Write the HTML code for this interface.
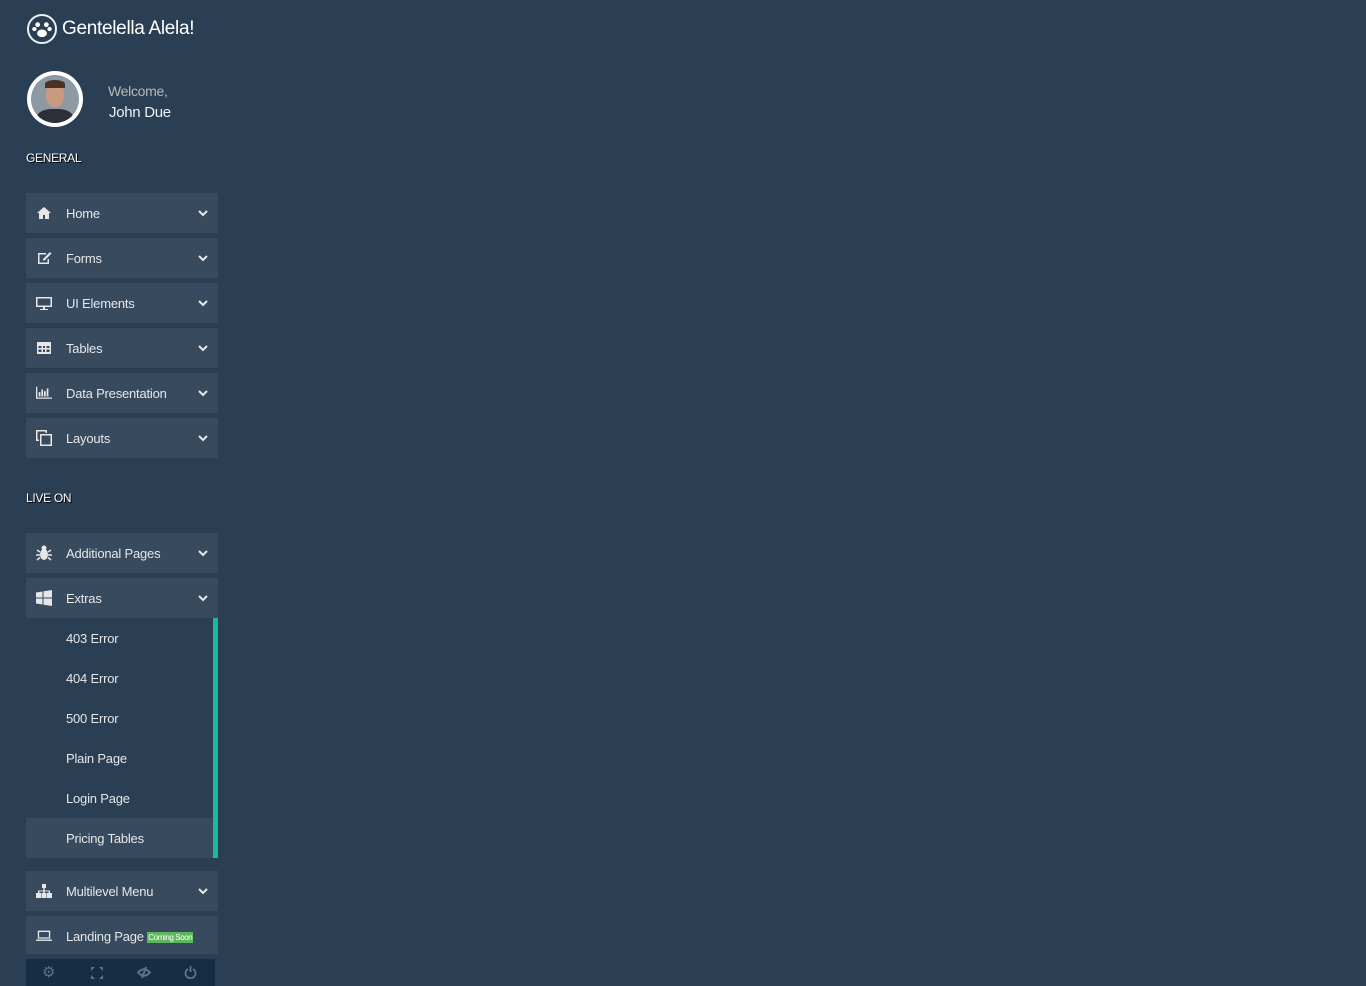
<!DOCTYPE html>
<html><head><meta charset="utf-8"><style>
body{margin:0;width:1366px;height:986px;background:#2A3F54;font-family:"Liberation Sans",sans-serif;color:#ECF0F1;position:relative;overflow:hidden}
.a{position:absolute}
.item{position:absolute;left:26px;width:192px;height:40px;background:#374A5E;font-size:13px;color:#E7E7E7;letter-spacing:-0.2px}
.item .ic{position:absolute;left:10px;top:12px;width:16px;height:16px;fill:#E7E7E7}
.item .t{position:absolute;left:40px;top:13px}
.item .ch{position:absolute;left:172px;top:15px;width:10px;height:10px}
.sub{position:absolute;left:26px;width:187px;height:40px;font-size:13px;color:#E7E7E7;letter-spacing:-0.2px}
.sub .t{position:absolute;left:40px;top:13px}
.sec{position:absolute;left:26px;font-size:12px;color:#fff;text-shadow:1px 1px #000;letter-spacing:-0.3px}
</style></head><body>
<div class="a" style="left:27px;top:14px;width:30px;height:30px;border:2px solid #ECF0F1;border-radius:50%;box-sizing:border-box">
<svg width="26" height="26" viewBox="0 0 24 24"><circle cx="8" cy="8" r="2.2" fill="#fff"/><circle cx="16" cy="8" r="2.2" fill="#fff"/><circle cx="5" cy="12" r="2" fill="#fff"/><circle cx="19" cy="12" r="2" fill="#fff"/><ellipse cx="12" cy="16" rx="4.5" ry="3.5" fill="#fff"/></svg></div>
<div class="a" style="left:62px;top:18px;font-size:19px;color:#fff;letter-spacing:-0.3px">Gentelella Alela!</div>
<div class="a" style="left:27px;top:71px;width:56px;height:56px;border-radius:50%;background:#fff;">
<div style="position:absolute;left:4px;top:4px;width:48px;height:48px;border-radius:50%;background:#8d9aa3;overflow:hidden"><div style="position:absolute;left:15px;top:8px;width:18px;height:24px;border-radius:45%;background:#c99a80"></div><div style="position:absolute;left:14px;top:5px;width:20px;height:8px;border-radius:50% 50% 0 0;background:#4a3225"></div><div style="position:absolute;left:6px;top:34px;width:36px;height:20px;border-radius:40% 40% 0 0;background:#2b3038"></div></div></div>
<div class="a" style="left:108px;top:83px;font-size:14px;color:#BAB8B8;letter-spacing:-0.3px">Welcome,</div>
<div class="a" style="left:109px;top:104px;font-size:15px;color:#ECF0F1;letter-spacing:-0.3px">John Due</div>
<div class="sec" style="top:151px">GENERAL</div>
<div class="item" style="top:193px"><svg class="ic" viewBox="0 0 16 16"><path d="M8 2L1 8h2v6h4v-4h2v4h4V8h2z"/></svg><span class="t">Home</span><svg class="ch" viewBox="0 0 10 10"><path d="M1 3l4 4 4-4" stroke="#E7E7E7" stroke-width="2" fill="none"/></svg></div>
<div class="item" style="top:238px"><svg class="ic" viewBox="0 0 16 16"><path d="M2 3h8v1.5H3.5v8h8V9H13v5H2z M7 9l7-7 1.5 1.5-7 7H7z"/></svg><span class="t">Forms</span><svg class="ch" viewBox="0 0 10 10"><path d="M1 3l4 4 4-4" stroke="#E7E7E7" stroke-width="2" fill="none"/></svg></div>
<div class="item" style="top:283px"><svg class="ic" viewBox="0 0 16 16"><path d="M0 2h16v10H9v2h3v1H4v-1h3v-2H0z M1.5 3.5v7h13v-7z"/></svg><span class="t">UI Elements</span><svg class="ch" viewBox="0 0 10 10"><path d="M1 3l4 4 4-4" stroke="#E7E7E7" stroke-width="2" fill="none"/></svg></div>
<div class="item" style="top:328px"><svg class="ic" viewBox="0 0 16 16"><path d="M1 2h14v12H1z M2.5 6v2h3V6z m4.5 0v2h2V6z m3.5 0v2h3V6z M2.5 9.5v2.5h3V9.5z m4.5 0v2.5h2V9.5z m3.5 0v2.5h3V9.5z"/></svg><span class="t">Tables</span><svg class="ch" viewBox="0 0 10 10"><path d="M1 3l4 4 4-4" stroke="#E7E7E7" stroke-width="2" fill="none"/></svg></div>
<div class="item" style="top:373px"><svg class="ic" viewBox="0 0 18 16"><path d="M0 1h1.5v12H18v1.5H0z M3 7h2v5H3z M6 4h2v8H6z M9 6h2v6H9z M12 3h2v9h-2z"/></svg><span class="t">Data Presentation</span><svg class="ch" viewBox="0 0 10 10"><path d="M1 3l4 4 4-4" stroke="#E7E7E7" stroke-width="2" fill="none"/></svg></div>
<div class="item" style="top:418px"><svg class="ic" viewBox="0 0 16 16"><path d="M0 0h11v3H9.5V1.5h-8v8H3V11H0z M4 4h12v12H4z M5.5 5.5v9h9v-9z"/></svg><span class="t">Layouts</span><svg class="ch" viewBox="0 0 10 10"><path d="M1 3l4 4 4-4" stroke="#E7E7E7" stroke-width="2" fill="none"/></svg></div>
<div class="sec" style="top:491px">LIVE ON</div>
<div class="item" style="top:533px"><svg class="ic" viewBox="0 0 16 16"><ellipse cx="8" cy="9.5" rx="4" ry="5.5"/><circle cx="8" cy="3" r="2.5"/><path d="M1 5l3 2M15 5l-3 2M0 10h4M16 10h-4M1 15l3-2.5M15 15l-3-2.5" stroke="#E7E7E7" stroke-width="1.5"/></svg><span class="t">Additional Pages</span><svg class="ch" viewBox="0 0 10 10"><path d="M1 3l4 4 4-4" stroke="#E7E7E7" stroke-width="2" fill="none"/></svg></div>
<div class="item" style="top:578px"><svg class="ic" viewBox="0 0 16 16"><path d="M0 2.5l6.5-1v6H0z M7.5 1.3L16 0v7.5H7.5z M0 8.5h6.5v6l-6.5-1z M7.5 8.5H16V16l-8.5-1.3z"/></svg><span class="t">Extras</span><svg class="ch" viewBox="0 0 10 10"><path d="M1 3l4 4 4-4" stroke="#E7E7E7" stroke-width="2" fill="none"/></svg></div>
<div class="a" style="left:213px;top:618px;width:5px;height:240px;background:#1ABB9C"></div>
<div class="sub" style="top:618px"><span class="t">403 Error</span></div>
<div class="sub" style="top:658px"><span class="t">404 Error</span></div>
<div class="sub" style="top:698px"><span class="t">500 Error</span></div>
<div class="sub" style="top:738px"><span class="t">Plain Page</span></div>
<div class="sub" style="top:778px"><span class="t">Login Page</span></div>
<div class="sub" style="top:818px;background:#374A5E"><span class="t">Pricing Tables</span></div>
<div class="item" style="top:871px"><svg class="ic" viewBox="0 0 16 16"><path d="M6 1h4v4H6z M7.3 5h1.4v2.5H14V10h-1.4V8.5H8.7V10H7.3V8.5H3.4V10H2V7.5h5.3z M0 10h5v5H0z M5.5 10h5v5h-5z M11 10h5v5h-5z"/></svg><span class="t">Multilevel Menu</span><svg class="ch" viewBox="0 0 10 10"><path d="M1 3l4 4 4-4" stroke="#E7E7E7" stroke-width="2" fill="none"/></svg></div>
<div class="item" style="top:916px;height:38px"><svg class="ic" viewBox="0 0 18 16"><path d="M2 2h14v9H2z M3.5 3.5v6h11v-6z M0 12h18v1.5H0z"/></svg><span class="t">Landing Page <span style="background:#5CB85C;color:#fff;font-size:8px;padding:1px 1px;position:relative;top:-1px;letter-spacing:-0.4px">Coming Soon</span></span></div>
<div class="a" style="left:26px;top:959px;width:189px;height:27px;background:#172D44">
<span style="position:absolute;left:16px;top:4px;font-size:15px;color:#5A738E">⚙</span>
<svg style="position:absolute;left:65px;top:8px" width="12" height="12" viewBox="0 0 12 12"><path d="M0 0h4L0 4z M12 0H8l4 4z M0 12h4L0 8z M12 12H8l4-4z" fill="#5A738E"/></svg>
<svg style="position:absolute;left:111px;top:7px" width="14" height="13" viewBox="0 0 14 13"><path d="M1 6.5Q7 0 13 6.5Q7 13 1 6.5z" fill="none" stroke="#5A738E" stroke-width="2"/><path d="M9 1L5 12" stroke="#5A738E" stroke-width="2"/></svg>
<svg style="position:absolute;left:158px;top:7px" width="13" height="13" viewBox="0 0 13 13"><path d="M4 3A5 5 0 1 0 9 3" fill="none" stroke="#5A738E" stroke-width="1.8"/><path d="M6.5 0v6" stroke="#5A738E" stroke-width="1.8"/></svg>
</div>
</body></html>
